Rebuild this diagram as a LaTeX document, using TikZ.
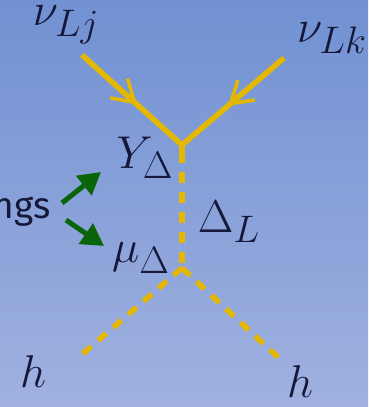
\documentclass[tikz,border=0pt]{standalone}
\usepackage{amsmath}
\usepackage{fontspec}
\setsansfont{Fira Sans}
\usepackage{tikz}
\usetikzlibrary{arrows.meta,positioning,calc,decorations.markings}

\definecolor{bgtop}{RGB}{113,145,210}
\definecolor{bgbot}{RGB}{160,177,224}
\definecolor{fermi}{RGB}{228,184,0}
\definecolor{labelblue}{RGB}{22,24,58}
\definecolor{pointgreen}{RGB}{10,100,10}

\begin{document}
\begin{tikzpicture}[
  x=1pt, y=-1pt,
  fermion/.style={draw=fermi, line width=5.5pt, line cap=butt,
    postaction={decorate, decoration={markings,
      mark=at position 0.55 with {\arrow[fermi, line width=3.5pt]{Straight Barb[length=21pt, width=26pt]}}}}},
  scalar/.style={draw=fermi, line width=5.5pt, dash pattern=on 11pt off 9pt},
  pointer/.style={draw=pointgreen, line width=5pt, -{Triangle[length=22pt, width=24pt]}},
  lbl/.style={text=labelblue, font=\Huge, scale=1.85, transform shape, inner sep=0pt}
]
\fill[top color=bgtop, bottom color=bgbot] (0,0) rectangle (368,407);
\useasboundingbox (0,0) rectangle (368,407);

% vertices
\coordinate (vtop) at (182,145);
\coordinate (vbot) at (182,268);

% external legs
\coordinate (nuj) at (82,55);
\coordinate (nuk) at (284,58);
\coordinate (hl) at (79,357);
\coordinate (hr) at (281,360);

\draw[fermion] (nuj) -- (vtop);
\draw[fermion] (nuk) -- (vtop);
\draw[draw=fermi, line width=5.5pt] (vtop) -- ++(0,7);
\draw[scalar] ($(vtop)+(0,7)$) -- (vbot);
\draw[scalar] (vbot) -- (hl);
\draw[scalar] (vbot) -- (hr);

% labels
\node[lbl] (lnuj) at (66,25) {$\nu_{Lj}$};
\node[lbl] (lnuk) at (332,38) {$\nu_{Lk}$};
\node[lbl] (lyd) at (145,158) {$Y_\Delta$};
\node[lbl] (ldl) at (229,222) {$\Delta_L$};
\node[lbl] (lmu) at (141,258) {$\mu_\Delta$};
\node[lbl] (lhl) at (33,372) {$h$};
\node[lbl] (lhr) at (300,382) {$h$};

% couplings pointer
\node[text=labelblue, font=\sffamily\fontsize{37}{40}\selectfont, inner sep=0pt, anchor=east] (coup) at (51,212) {ngs};
\coordinate (pa1) at (62,203);
\coordinate (pb1) at (101,172);
\coordinate (pa2) at (66,220);
\coordinate (pb2) at (104,246);
\draw[pointer] (pa1) -- (pb1);
\draw[pointer] (pa2) -- (pb2);
\end{tikzpicture}
\end{document}
